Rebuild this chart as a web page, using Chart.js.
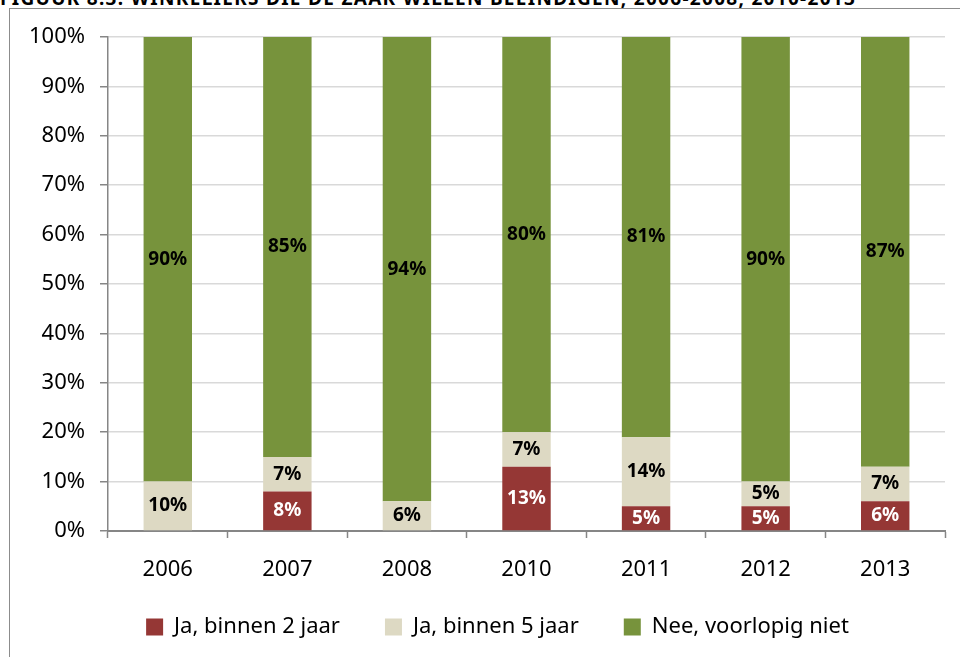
<!DOCTYPE html>
<html>
<head>
<meta charset="utf-8">
<script src="https://cdn.jsdelivr.net/npm/chart.js@4"></script>
<style>
  html, body { margin: 0; padding: 0; background: #fff; overflow: hidden; }
  #wrap { position: relative; width: 960px; height: 657px; overflow: hidden; }
  #title {
    position: absolute; left: 0; top: -11px; white-space: nowrap;
    font: bold 19px "Noto Sans", sans-serif; line-height: 19px; letter-spacing: 1.3px; color: #000;
  }
  #frame {
    position: absolute; left: 9px; top: 8px; width: 1000px; height: 700px;
    border-left: 1.5px solid #8c8c8c; border-top: 1.5px solid #8c8c8c;
  }
  canvas { position: absolute; left: 0; top: 0; }
</style>
</head>
<body>
<div id="wrap">
  <div id="title">FIGUUR 8.3: WINKELIERS DIE DE ZAAK WILLEN BEËINDIGEN, 2006-2008, 2010-2013</div>
  <div id="frame"></div>
  <canvas id="chart" width="960" height="657"></canvas>
</div>
<script>
const years = ['2006', '2007', '2008', '2010', '2011', '2012', '2013'];
const binnen2 = [0, 8, 0, 13, 5, 5, 6];      // Ja, binnen 2 jaar
const binnen5 = [10, 7, 6, 7, 14, 5, 7];     // Ja, binnen 5 jaar
const nee = [90, 85, 94, 80, 81, 90, 87];    // Nee, voorlopig niet

const FONT = '"Noto Sans", sans-serif';

// percentage labels in the middle of each segment
const segmentLabels = {
  id: 'segmentLabels',
  afterDatasetsDraw(chart) {
    const ctx = chart.ctx;
    ctx.save();
    ctx.font = 'bold 19px ' + FONT;
    ctx.textAlign = 'center';
    ctx.textBaseline = 'middle';
    chart.data.datasets.forEach((ds, i) => {
      const meta = chart.getDatasetMeta(i);
      meta.data.forEach((bar, j) => {
        const v = ds.data[j];
        if (!v) return;
        ctx.fillStyle = i === 0 ? '#ffffff' : '#000000';
        ctx.fillText(v + '%', bar.x, (bar.y + bar.base) / 2);
      });
    });
    ctx.restore();
  }
};

// legend sits a bit right of centre; x labels overlap the legend's top padding
const layoutTweaks = {
  id: 'layoutTweaks',
  afterLayout(chart) {
    chart.legend.left += 50;
    chart.scales.x.bottom += 30;
  }
};

new Chart(document.getElementById('chart'), {
  type: 'bar',
  data: {
    labels: years,
    datasets: [
      { label: 'Ja, binnen 2 jaar', data: binnen2, backgroundColor: '#953735' },
      { label: 'Ja, binnen 5 jaar', data: binnen5, backgroundColor: '#DDD9C3' },
      { label: 'Nee, voorlopig niet', data: nee, backgroundColor: '#77933C' },
    ],
  },
  options: {
    responsive: false,
    animation: false,
    barPercentage: 0.81,
    categoryPercentage: 0.5,
    layout: { padding: { left: 0, top: 37, right: 15, bottom: 9 } },
    plugins: {
      legend: {
        position: 'bottom',
        labels: {
          boxWidth: 17, boxHeight: 17, padding: 45,
          color: '#000', font: { family: FONT, size: 22 },
        },
      },
      tooltip: { enabled: false },
    },
    scales: {
      x: {
        stacked: true,
        afterFit: s => { s.height = 40; },
        grid: { drawOnChartArea: false, offset: true, tickLength: 7, tickColor: '#868686', tickWidth: 1.5 },
        border: { color: '#868686', width: 2 },
        ticks: { color: '#000', padding: 19, font: { family: FONT, size: 22 } },
      },
      y: {
        stacked: true,
        min: 0,
        max: 100,
        afterFit: s => { s.width = 108; },
        grid: { color: '#D9D9D9', lineWidth: 1.5, tickLength: 8, tickColor: '#868686', tickWidth: 1.5 },
        border: { color: '#868686', width: 1.5 },
        ticks: {
          stepSize: 10,
          padding: 15,
          color: '#000',
          font: { family: FONT, size: 22 },
          callback: v => v + '%',
        },
      },
    },
  },
  plugins: [segmentLabels, layoutTweaks],
});
</script>
</body>
</html>
